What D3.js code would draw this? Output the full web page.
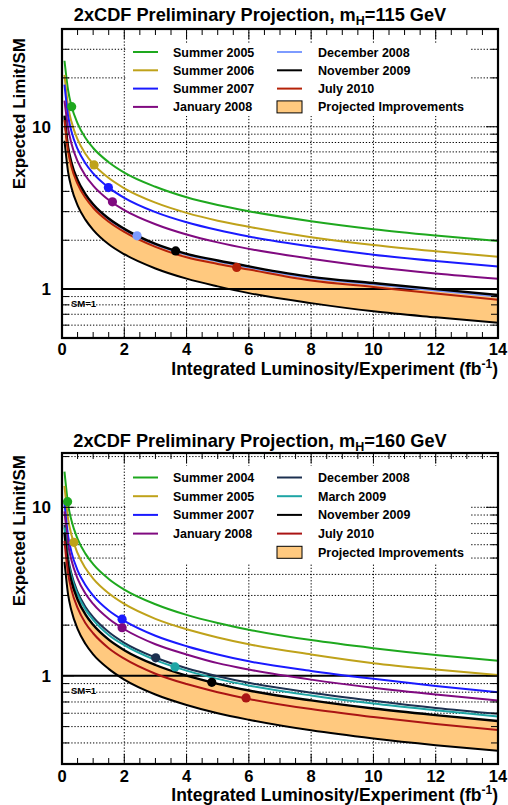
<!DOCTYPE html>
<html><head><meta charset="utf-8">
<script src="https://cdn.jsdelivr.net/npm/d3@7"></script>
<style>
body{margin:0;background:#fff;}
text{font-family:"Liberation Sans",Arial,Helvetica,sans-serif;font-weight:bold;fill:#000;}
</style></head>
<body>
<svg id="chart" width="508" height="805"></svg>
<script>
// ---------------- DATA ----------------
const lumiGrid = [0.08,0.2,0.3,0.5,0.75,1,1.5,2,3,4,5,6,8,10,12,14];
const xTicks = [0,2,4,6,8,10,12,14];

// mH = 115 GeV
const m115Labels = ["Summer 2005","Summer 2006","Summer 2007","January 2008","December 2008","November 2009","July 2010"];
const m115Summer2005   = [25.5,16.6,13.5,10.5,8.55,7.4,6.05,5.22,4.27,3.68,3.30,3.02,2.62,2.34,2.14,1.98];
const m115Summer2006   = [20.9,13.2,10.8,8.35,6.82,5.9,4.83,4.18,3.41,2.95,2.64,2.42,2.09,1.87,1.71,1.58];
const m115Summer2007   = [18.2,11.55,9.42,7.3,5.96,5.16,4.22,3.65,2.98,2.58,2.31,2.11,1.83,1.63,1.49,1.38];
const m115January2008  = [14.5,9.7,7.92,6.14,5.01,4.34,3.54,3.07,2.51,2.17,1.94,1.77,1.54,1.37,1.25,1.16];
const m115December2008 = [11.5,7.3,5.95,4.63,3.79,3.28,2.68,2.32,1.88,1.63,1.48,1.36,1.17,1.07,0.98,0.90];
const m115November2009 = [11.7,7.4,6.05,4.7,3.85,3.33,2.72,2.35,1.90,1.65,1.50,1.38,1.19,1.09,1.0,0.92];
const m115July2010     = [11.0,7.0,5.7,4.45,3.65,3.17,2.6,2.25,1.82,1.57,1.43,1.32,1.13,1.03,0.94,0.86];
const m115Lower        = [8.2,5.2,4.24,3.28,2.68,2.32,1.89,1.64,1.34,1.16,1.04,0.945,0.82,0.73,0.67,0.62];
const m115DotLumi  = [0.31,1.03,1.49,1.62,2.41,3.65,5.61];
const m115DotLimit = [13.3,5.82,4.22,3.45,2.13,1.72,1.36];
const m115Colors = ["#1ea81e","#bfa21a","#1a1aff","#800a80","#7d9bff","#000000","#b52208"];
const m115YTicks = [0.6,0.7,0.8,0.9,1,2,3,4,5,6,7,8,9,10,20,30];

// mH = 160 GeV
const m160Labels = ["Summer 2004","Summer 2005","Summer 2007","January 2008","December 2008","March 2009","November 2009","July 2010"];
const m160Summer2004   = [16.3,10.3,8.4,6.5,5.31,4.6,3.76,3.25,2.66,2.30,2.06,1.88,1.63,1.46,1.33,1.23];
const m160Summer2005   = [13.4,8.45,6.9,5.34,4.36,3.78,3.09,2.67,2.18,1.89,1.69,1.54,1.34,1.19,1.09,1.01];
const m160Summer2007   = [10.6,6.7,5.46,4.23,3.46,2.99,2.44,2.12,1.73,1.50,1.34,1.22,1.07,0.96,0.87,0.80];
const m160January2008  = [9.45,5.98,4.88,3.78,3.08,2.67,2.18,1.89,1.54,1.34,1.19,1.09,0.95,0.85,0.775,0.714];
const m160December2008 = [7.87,4.98,4.06,3.15,2.57,2.23,1.82,1.57,1.285,1.11,0.995,0.909,0.795,0.712,0.645,0.595];
const m160March2009    = [7.59,4.8,3.92,3.04,2.48,2.15,1.75,1.52,1.24,1.074,0.96,0.877,0.765,0.685,0.625,0.574];
const m160November2009 = [7.09,4.49,3.66,2.84,2.32,2.01,1.64,1.42,1.16,1.003,0.897,0.819,0.715,0.64,0.585,0.54];
const m160July2010     = [6.32,4.0,3.26,2.53,2.06,1.79,1.46,1.265,1.03,0.894,0.80,0.73,0.635,0.57,0.518,0.478];
const m160Lower        = [4.75,3.0,2.45,1.9,1.55,1.34,1.10,0.95,0.775,0.672,0.60,0.549,0.475,0.425,0.388,0.359];
const m160DotLumi  = [0.18,0.38,1.93,1.93,3.01,3.63,4.81,5.91];
const m160DotLimit = [10.8,6.2,2.17,1.93,1.28,1.13,0.915,0.74];
const m160Colors = ["#1ea81e","#bfa21a","#1a1aff","#800a80","#1c3050","#1ea5a5","#000000","#aa1414"];
const m160YTicks = [0.3,0.4,0.5,0.6,0.7,0.8,0.9,1,2,3,4,5,6,7,8,9,10,20];

const bandColor = "#ffc97f";

// ---------------- DRAW ----------------
const svg = d3.select("#chart");

function drawPanel(o){
  const g = svg.append("g");
  const x = d3.scaleLinear().domain([0,14]).range([62,498]);
  const y = d3.scaleLog().domain(o.yDomain).range([o.bottom,o.top]);
  const L = 62, R = 498, T = o.top, B = o.bottom;
  const clipId = "clip"+o.id;
  g.append("clipPath").attr("id",clipId).append("rect")
    .attr("x",L).attr("y",T).attr("width",R-L).attr("height",B-T);

  // grid
  const grid = g.append("g").attr("stroke","#000").attr("stroke-width",1).attr("stroke-dasharray","1.3,1.8");
  grid.selectAll("line.h").data(o.yTicks.filter(v=>v!==1)).join("line")
    .attr("x1",L).attr("x2",R).attr("y1",d=>y(d)).attr("y2",d=>y(d));
  grid.selectAll("line.v").data(xTicks.filter(v=>v>0&&v<14)).join("line")
    .attr("y1",T).attr("y2",B).attr("x1",d=>x(d)).attr("x2",d=>x(d));

  const plot = g.append("g").attr("clip-path",`url(#${clipId})`);
  const pts = arr => lumiGrid.map((l,i)=>[l,arr[i]]);
  // band
  const area = d3.area().x((d,i)=>x(lumiGrid[i])).y0((d,i)=>y(o.lower[i])).y1((d,i)=>y(o.upper[i])).curve(d3.curveMonotoneX);
  plot.append("path").attr("d",area(lumiGrid)).attr("fill",bandColor);
  // SM=1 line
  plot.append("line").attr("x1",L).attr("x2",R).attr("y1",y(1)).attr("y2",y(1)).attr("stroke","#000").attr("stroke-width",2);

  const line = d3.line().x(d=>x(d[0])).y(d=>y(d[1])).curve(d3.curveMonotoneX);
  plot.append("path").attr("d",line(pts(o.lower))).attr("fill","none").attr("stroke","#000").attr("stroke-width",2);
  o.series.forEach((s,i)=>{
    plot.append("path").attr("d",line(pts(s))).attr("fill","none")
      .attr("stroke",o.colors[i]).attr("stroke-width",i===o.blackIdx?2.4:2);
  });
  o.dotLumi.forEach((l,i)=>{
    plot.append("circle").attr("cx",x(l)).attr("cy",y(o.dotLimit[i])).attr("r",4.6).attr("fill",o.colors[i]);
  });

  // legend
  const lg = g.append("g");
  lg.append("rect").attr("x",126).attr("y",o.legTop).attr("width",344).attr("height",o.legBottom-o.legTop).attr("fill","#fff");
  const nLeft = 4;
  const entries = o.labels.map((t,i)=>({t,c:o.colors[i]}));
  entries.push({t:"Projected Improvements",band:true});
  entries.forEach((e,i)=>{
    const col = i<nLeft?0:1;
    const row = col===0?i:i-nLeft;
    const cy = o.legRow0 + row*o.legStep;
    const lx = col===0?133:277, tx = col===0?173:318;
    if(e.band){
      lg.append("rect").attr("x",lx).attr("y",cy-6).attr("width",25).attr("height",12)
        .attr("fill",bandColor).attr("stroke","#000").attr("stroke-width",1);
    } else {
      lg.append("line").attr("x1",lx).attr("x2",lx+25).attr("y1",cy).attr("y2",cy)
        .attr("stroke",e.c).attr("stroke-width",2);
    }
    lg.append("text").attr("x",tx).attr("y",cy+4.5).attr("font-size",12.5).text(e.t);
  });

  // ticks
  const tk = g.append("g").attr("stroke","#000").attr("stroke-width",1);
  d3.range(0,14.01,0.5).forEach(v=>{
    const len = (v%2===0)?10:6;
    tk.append("line").attr("x1",x(v)).attr("x2",x(v)).attr("y1",B).attr("y2",B-len);
    tk.append("line").attr("x1",x(v)).attr("x2",x(v)).attr("y1",T).attr("y2",T+len);
  });
  o.yTicks.forEach(v=>{
    const len = (v===1||v===10)?12:7;
    tk.append("line").attr("x1",L).attr("x2",L+len).attr("y1",y(v)).attr("y2",y(v));
    tk.append("line").attr("x1",R).attr("x2",R-len).attr("y1",y(v)).attr("y2",y(v));
  });

  // frame
  g.append("rect").attr("x",L).attr("y",T).attr("width",R-L).attr("height",B-T)
    .attr("fill","none").attr("stroke","#000").attr("stroke-width",2.2);

  // tick labels
  g.selectAll("text.xt").data(xTicks).join("text").attr("class","xt")
    .attr("x",d=>x(d)).attr("y",o.xLabelY).attr("text-anchor","middle").attr("font-size",16.5).text(d=>d);
  g.selectAll("text.yt").data([1,10]).join("text").attr("class","yt")
    .attr("x",51).attr("y",d=>y(d)+6).attr("text-anchor","end").attr("font-size",17).text(d=>d);

  g.append("text").attr("x",71).attr("y",y(1)+18).attr("font-size",9.5).text("SM=1");

  // titles
  const tt = g.append("text").attr("x",260).attr("y",o.titleY).attr("text-anchor","middle").attr("font-size",18.2);
  tt.append("tspan").text("2xCDF Preliminary Projection, m");
  tt.append("tspan").attr("font-size",12.5).attr("dy",4).text("H");
  tt.append("tspan").attr("dy",-4).text("="+o.mass+" GeV");

  const xt = g.append("text").attr("x",498).attr("y",o.xTitleY).attr("text-anchor","end").attr("font-size",17.5);
  xt.append("tspan").text("Integrated Luminosity/Experiment (fb");
  xt.append("tspan").attr("font-size",12).attr("dy",-7).text("-1");
  xt.append("tspan").attr("dy",7).text(")");

  g.append("text").attr("transform",`translate(25,${o.yTitleEnd}) rotate(-90)`).attr("text-anchor","end")
    .attr("font-size",17).text("Expected Limit/SM");
}

drawPanel({
  id:"a", top:29, bottom:338, yDomain:[0.5,40], yTicks:m115YTicks,
  series:[m115Summer2005,m115Summer2006,m115Summer2007,m115January2008,m115December2008,m115November2009,m115July2010],
  upper:m115November2009, lower:m115Lower, blackIdx:5,
  colors:m115Colors, labels:m115Labels, dotLumi:m115DotLumi, dotLimit:m115DotLimit,
  legTop:43, legBottom:116, legRow0:52, legStep:18.3,
  mass:115, titleY:21, xLabelY:355, xTitleY:375, yTitleEnd:38
});
drawPanel({
  id:"b", top:453, bottom:764, yDomain:[0.3,21], yTicks:m160YTicks,
  series:[m160Summer2004,m160Summer2005,m160Summer2007,m160January2008,m160December2008,m160March2009,m160November2009,m160July2010],
  upper:m160November2009, lower:m160Lower, blackIdx:6,
  colors:m160Colors, labels:m160Labels, dotLumi:m160DotLumi, dotLimit:m160DotLimit,
  legTop:466, legBottom:563, legRow0:477.5, legStep:18.7,
  mass:160, titleY:447, xLabelY:782, xTitleY:801, yTitleEnd:455
});
</script>
</body></html>
